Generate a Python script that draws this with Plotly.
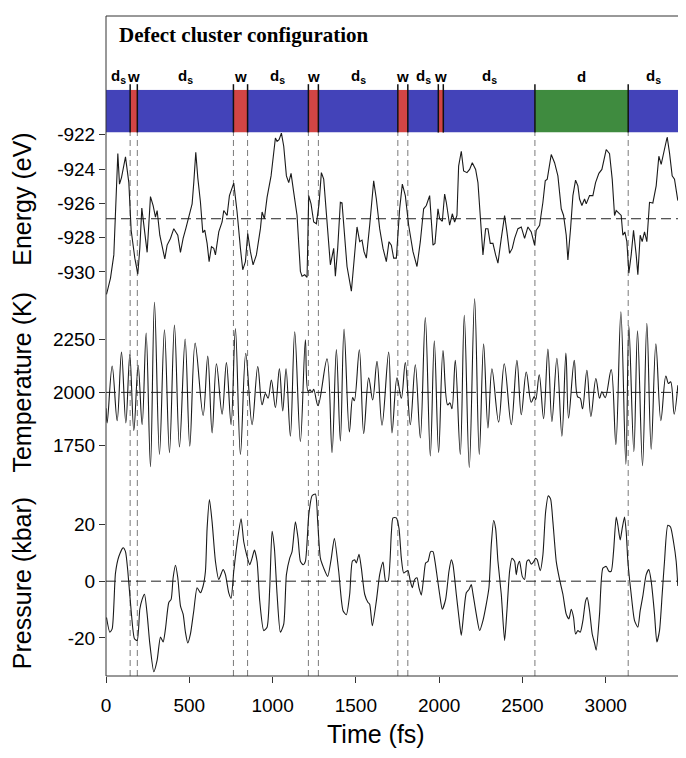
import plotly.graph_objects as go

# ---------------- data ----------------
seg_start = [0, 145, 188, 765, 850, 1215, 1275, 1752, 1812, 1995, 2025, 2575, 3135]
seg_end = [145, 188, 765, 850, 1215, 1275, 1752, 1812, 1995, 2025, 2575, 3135, 3440]
seg_type = ['ds', 'w', 'ds', 'w', 'ds', 'w', 'ds', 'w', 'ds', 'w', 'ds', 'd', 'ds']
dashed_times = [145, 188, 765, 850, 1215, 1275, 1752, 1812, 2575, 3135]

energy_t = [3, 27, 47, 71, 81, 93, 117, 137, 151, 173, 191, 203, 215, 227, 247, 267, 283, 297, 307, 323,
            353, 367, 387, 407, 431, 447, 463, 479, 497, 517, 527, 539, 551, 567, 581, 593, 607, 619, 633, 647,
            657, 677, 697, 707, 727, 741, 767, 787, 807, 821, 837, 851, 867, 883, 903, 927, 937, 951, 967, 991,
            1017, 1027, 1039, 1053, 1067, 1083, 1097, 1111, 1127, 1147, 1167, 1177, 1193, 1207, 1217, 1231, 1247,
            1263, 1279, 1293, 1307, 1323, 1347, 1367, 1377, 1391, 1407, 1417, 1431, 1447, 1473, 1493, 1507, 1523,
            1537, 1549, 1563, 1583, 1607, 1623, 1643, 1663, 1683, 1699, 1713, 1727, 1743, 1763, 1779, 1797, 1817,
            1843, 1867, 1887, 1907, 1923, 1943, 1963, 1975, 1993, 2003, 2019, 2033, 2043, 2063, 2079, 2093, 2107,
            2117, 2133, 2147, 2167, 2183, 2199, 2219, 2233, 2247, 2263, 2279, 2293, 2307, 2323, 2339, 2353, 2373,
            2393, 2407, 2423, 2439, 2453, 2473, 2493, 2513, 2533, 2553, 2573, 2583, 2603, 2623, 2637, 2649, 2673,
            2693, 2713, 2733, 2747, 2763, 2773, 2789, 2803, 2819, 2833, 2843, 2857, 2873, 2883, 2903, 2923, 2939,
            2959, 2977, 2989, 3003, 3023, 3039, 3053, 3063, 3073, 3093, 3103, 3115, 3127, 3139, 3153, 3167, 3183,
            3193, 3207, 3219, 3233, 3247, 3263, 3283, 3303, 3319, 3333, 3353, 3369, 3383, 3399, 3413, 3433]
energy_v = [-931.32, -930.36, -929.01, -923.10, -924.88, -924.50, -923.29, -924.79, -927.57, -929.20,
            -930.13, -928.63, -926.28, -927.28, -928.86, -925.61, -926.13, -926.80, -926.42, -927.86,
            -929.24, -928.44, -928.05, -927.48, -927.86, -928.86, -928.05, -927.48, -926.80, -926.03,
            -924.79, -923.02, -924.50, -925.94, -927.71, -927.57, -928.34, -929.40, -928.53, -928.63,
            -929.01, -927.67, -927.09, -926.42, -926.71, -925.55, -924.82, -926.51, -928.63, -929.88,
            -929.40, -927.76, -928.82, -929.59, -929.01, -927.48, -926.51, -926.90, -925.65, -924.40,
            -922.19, -922.38, -922.29, -921.90, -922.67, -924.40, -924.79, -924.25, -925.36, -926.71,
            -929.97, -930.26, -930.17, -930.32, -925.55, -926.03, -927.09, -927.19, -926.03, -924.21,
            -924.59, -926.71, -929.59, -928.63, -930.26, -928.63, -925.94, -925.98, -927.57, -929.69,
            -931.13, -929.01, -927.38, -928.24, -928.15, -928.82, -929.20, -927.28, -924.69, -925.75,
            -927.48, -928.63, -929.40, -928.24, -928.44, -929.20, -929.20, -926.32, -924.88, -925.55,
            -927.28, -928.82, -929.69, -928.24, -926.32, -926.13, -925.55, -928.44, -928.34, -926.32,
            -926.90, -927.05, -925.46, -925.94, -927.28, -926.61, -927.09, -926.71, -923.83, -922.96,
            -924.11, -924.21, -924.02, -923.63, -924.02, -924.79, -926.71, -929.01, -927.48, -927.48,
            -928.34, -928.34, -929.01, -929.49, -928.05, -926.71, -927.67, -928.92, -928.63, -928.05,
            -927.48, -927.38, -928.05, -927.38, -927.67, -928.44, -927.57, -927.28, -925.94, -924.69,
            -924.59, -923.15, -923.63, -924.40, -926.32, -926.71, -927.86, -929.30, -927.48, -925.55,
            -924.65, -924.98, -925.75, -926.13, -925.75, -926.03, -925.55, -925.55, -924.79, -924.25,
            -924.02, -923.44, -922.86, -923.10, -924.59, -926.71, -926.42, -926.51, -926.71, -927.86,
            -927.67, -928.24, -930.07, -929.01, -927.57, -929.01, -930.17, -927.86, -928.24, -927.67,
            -928.24, -925.94, -925.98, -924.98, -923.25, -923.73, -922.77, -922.13, -923.06, -924.40,
            -924.59, -925.84]
energy_mean = -926.9

temp_t = [0, 7, 37, 67, 93, 119, 143, 167, 193, 217, 241, 267, 291, 321, 351, 381, 411, 441, 475, 503,
          535, 583, 611, 637, 663, 697, 723, 751, 777, 807, 839, 877, 911, 937, 957, 973, 993, 1017, 1041,
          1061, 1081, 1107, 1133, 1167, 1197, 1213, 1225, 1237, 1247, 1273, 1327, 1357, 1383, 1407, 1429,
          1461, 1481, 1491, 1521, 1547, 1577, 1601, 1627, 1657, 1697, 1717, 1747, 1773, 1797, 1827, 1857,
          1887, 1917, 1947, 1971, 1997, 2023, 2051, 2065, 2077, 2097, 2127, 2151, 2181, 2213, 2241, 2267,
          2293, 2317, 2357, 2391, 2433, 2467, 2493, 2523, 2553, 2571, 2580, 2601, 2627, 2653, 2677, 2707,
          2737, 2761, 2777, 2811, 2831, 2847, 2861, 2887, 2911, 2941, 2963, 2977, 2997, 3033, 3061, 3091,
          3121, 3139, 3169, 3191, 3221, 3247, 3273, 3301, 3331, 3361, 3377, 3390, 3411, 3433]
temp_v = [1925, 1855, 2125, 1866, 2191, 1855, 2180, 1819, 2128, 1847, 2281, 1647, 2428, 1706, 2297, 1714,
          2319, 1741, 2253, 1745, 2234, 1891, 2172, 1808, 2136, 1897, 2141, 1847, 2303, 1706, 2185, 1847,
          2123, 1941, 1995, 1972, 2058, 1928, 2112, 1912, 2112, 1792, 2288, 1766, 2250, 2005, 2012, 2000,
          2015, 1937, 2159, 1714, 2203, 1769, 2300, 1812, 1975, 1960, 2202, 1805, 2069, 1964, 2147, 1844,
          2191, 1808, 2069, 1972, 2141, 1847, 2131, 1784, 2355, 1698, 2245, 1714, 2198, 1941, 1950, 1922,
          2152, 1706, 2366, 1644, 2444, 1706, 2230, 1831, 2112, 1859, 2136, 1847, 2152, 1894, 2097, 1953,
          1980, 1965, 2084, 1875, 2206, 1862, 2162, 1792, 2187, 1878, 2152, 1980, 1972, 1922, 2105, 1886,
          2066, 1972, 2003, 1975, 2108, 1753, 2383, 1659, 2316, 1719, 2292, 1652, 2328, 1730, 2230, 1866,
          2078, 2042, 2050, 1897, 2034]
temp_mean = 2000

pres_t = [3, 23, 37, 57, 77, 103, 117, 131, 151, 171, 187, 203, 217, 231, 247, 263, 287, 307, 327, 343,
          357, 377, 391, 403, 417, 431, 447, 463, 477, 491, 507, 527, 547, 567, 583, 597, 607, 621, 637, 657,
          677, 703, 717, 737, 751, 767, 791, 811, 827, 847, 863, 877, 891, 907, 923, 947, 967, 983, 997, 1011,
          1027, 1047, 1067, 1083, 1103, 1117, 1137, 1153, 1167, 1183, 1197, 1217, 1237, 1257, 1271, 1287, 1307,
          1331, 1351, 1371, 1397, 1423, 1443, 1463, 1479, 1493, 1503, 1519, 1533, 1553, 1573, 1583, 1599, 1623,
          1643, 1663, 1679, 1693, 1713, 1723, 1743, 1759, 1773, 1787, 1803, 1813, 1827, 1839, 1853, 1867, 1879,
          1893, 1907, 1919, 1933, 1949, 1963, 1975, 1989, 2003, 2019, 2039, 2059, 2073, 2083, 2103, 2119, 2133,
          2149, 2163, 2179, 2193, 2203, 2223, 2243, 2263, 2283, 2299, 2313, 2327, 2339, 2353, 2373, 2393, 2407,
          2423, 2437, 2453, 2463, 2473, 2483, 2499, 2513, 2527, 2539, 2553, 2569, 2579, 2589, 2607, 2623, 2639,
          2655, 2669, 2683, 2703, 2723, 2743, 2763, 2779, 2793, 2807, 2819, 2833, 2847, 2863, 2879, 2889, 2903,
          2919, 2933, 2943, 2963, 2983, 3003, 3019, 3033, 3047, 3063, 3073, 3087, 3099, 3113, 3123, 3133, 3153,
          3173, 3193, 3207, 3223, 3243, 3259, 3273, 3293, 3307, 3323, 3339, 3353, 3373, 3389, 3407, 3423, 3433]
pres_v = [-12.8, -18.0, -16.8, 2.9, 8.7, 11.8, 10.4, 3.5, -10.4, -20.3, -20.9, -9.9, -6.4, -4.6, -11.6,
          -22.0, -31.9, -27.8, -19.7, -21.4, -16.8, -7.5, -6.4, 1.2, 5.6, 1.2, -8.7, -11.6, -18.0, -21.8,
          -18.6, -10.4, -2.3, -4.1, -1.7, 3.5, 18.6, 28.8, 20.9, 7.0, 0.6, 4.1, 2.3, -4.1, -6.0, 3.5, 15.1,
          22.0, 13.9, 8.7, 5.8, 8.1, 11.0, 7.0, -7.0, -17.4, -16.2, -2.3, 17.6, 11.6, -4.6, -18.0, -15.1, 2.3,
          8.1, 10.4, 20.9, 15.1, 7.0, 5.8, 7.0, 23.2, 30.1, 30.7, 20.9, 8.1, 4.6, 1.7, 7.5, 15.1, 3.5, -10.4,
          -11.8, -4.6, 7.0, 7.5, 6.4, 9.5, 4.6, -4.6, -7.5, -8.1, -15.7, -7.0, 2.3, 6.7, 0.0, 0.0, 16.8, 22.3,
          22.3, 18.6, 8.1, 2.9, 3.5, 3.7, 0.0, -2.3, 0.6, 1.2, -2.3, -4.9, 1.2, 6.4, 7.0, 10.4, 10.4, 7.0, 1.2,
          -4.6, -9.9, -6.4, 3.5, 7.5, 5.8, -4.6, -12.8, -19.1, -10.4, -4.1, -2.9, -1.2, -4.4, -11.6, -17.4,
          -13.9, -8.1, -2.3, 12.8, 21.4, 18.6, 7.0, -4.6, -20.9, -10.4, 3.5, 8.1, 7.0, 2.3, 5.8, 7.0, 1.7, 0.6,
          7.0, 7.5, 6.0, 7.0, 8.1, 7.5, 3.7, 9.3, 24.3, 30.1, 29.0, 20.9, 7.0, 0.6, -4.6, -11.6, -13.3, -9.9,
          -12.8, -18.6, -17.4, -18.0, -13.9, -7.0, -5.8, -10.4, -18.6, -21.8, -24.3, -11.6, 4.6, 5.2, 3.5, 3.5,
          10.4, 22.6, 19.7, 14.5, 18.6, 22.6, 17.4, 7.0, -4.6, -13.9, -16.2, -10.4, -5.2, 2.3, 4.1, 0.0, -11.6,
          -21.4, -17.4, -4.6, 7.0, 19.7, 19.1, 13.9, 7.0, -1.7]
pres_mean = 0

x_ticks = [0, 500, 1000, 1500, 2000, 2500, 3000]
e_ticks = [-922, -924, -926, -928, -930]
e_ticktext = ['-922', '-924', '-926', '-928', '-930']
t_ticks = [1750, 2000, 2250]
t_ticktext = ['1750', '2000', '2250']
p_ticks = [-20, 0, 20]
p_ticktext = ['-20', '0', '20']

# ---------------- styling ----------------
seg_colors = {'ds': '#4343B9', 'w': '#D24545', 'd': '#3F8B3F'}
seg_labels = {'ds': '<b>d<sub>s</sub></b>', 'w': '<b>w</b>', 'd': '<b>d</b>'}
FONT = 'Liberation Sans, Arial, sans-serif'
XMAX = 3440

# paper fractions (plot area 668 px tall; page body has an 8 px margin)
P_DOM = [0.0, 0.3084]
T_DOM = [0.3084, 0.5734]
E_DOM = [0.5734, 0.8234]
BAR_DOM = [0.8234, 0.8882]

fig = go.Figure()

# configuration bar
fig.add_trace(go.Bar(
    y=[0] * len(seg_start),
    x=[e - s for s, e in zip(seg_start, seg_end)],
    base=seg_start,
    orientation='h',
    width=1,
    marker=dict(color=[seg_colors[t] for t in seg_type], line=dict(width=0)),
    xaxis='x', yaxis='y4', showlegend=False, hoverinfo='skip'))

line_style = dict(color='#1a1a1a', width=1.1)
fig.add_trace(go.Scatter(x=energy_t, y=energy_v, mode='lines', line=line_style,
                         xaxis='x', yaxis='y3', showlegend=False))
fig.add_trace(go.Scatter(x=temp_t, y=temp_v, mode='lines',
                         line=dict(color='#1a1a1a', width=1.1, shape='spline', smoothing=1.0),
                         xaxis='x', yaxis='y2', showlegend=False))
fig.add_trace(go.Scatter(x=pres_t, y=pres_v, mode='lines',
                         line=dict(color='#1a1a1a', width=1.1, shape='spline', smoothing=0.6),
                         xaxis='x', yaxis='y', showlegend=False))

shapes = []
# vertical dashed transition lines
for t in dashed_times:
    shapes.append(dict(type='line', xref='x', yref='paper', x0=t, x1=t, y0=0, y1=BAR_DOM[0],
                       line=dict(color='#7a7a7a', width=1, dash='6px,4px'), layer='below'))
# horizontal mean lines
for yref, val in [('y3', energy_mean), ('y2', temp_mean), ('y', pres_mean)]:
    shapes.append(dict(type='line', xref='x', yref=yref, x0=0, x1=XMAX, y0=val, y1=val,
                       line=dict(color='#222222', width=1, dash='10px,5px'), layer='below'))
# segment boundary ticks on the bar
for b in seg_start[1:]:
    shapes.append(dict(type='line', xref='x', yref='paper', x0=b, x1=b, y0=BAR_DOM[0], y1=0.8967,
                       line=dict(color='#111111', width=1.5)))
# frame
shapes.append(dict(type='rect', xref='paper', yref='paper', x0=0, x1=1, y0=0, y1=1,
                   line=dict(color='#333333', width=1), fillcolor='rgba(0,0,0,0)'))

annotations = []
annotations.append(dict(text='<b>Defect cluster configuration</b>', xref='paper', yref='paper',
                        x=0.019, y=0.9716, xanchor='left', yanchor='middle', showarrow=False,
                        font=dict(family='Liberation Serif, Times New Roman, serif', size=21, color='black')))
for s, e, t in zip(seg_start, seg_end, seg_type):
    annotations.append(dict(text=seg_labels[t], xref='x', yref='paper', x=(s + e) / 2, y=0.9085,
                            xanchor='center', yanchor='middle', showarrow=False,
                            font=dict(family=FONT, size=15, color='black')))
for txt, yc in [('Energy (eV)', 0.7231), ('Temperature (K)', 0.4461), ('Pressure (kbar)', 0.1407)]:
    annotations.append(dict(text=txt, xref='paper', yref='paper', x=-0.1466, y=yc, textangle=-90,
                            xanchor='center', yanchor='middle', showarrow=False,
                            font=dict(family=FONT, size=25, color='black')))
annotations.append(dict(text='Time (fs)', xref='paper', yref='paper', x=0.471, y=-0.0883,
                        xanchor='center', yanchor='middle', showarrow=False,
                        font=dict(family=FONT, size=25, color='black')))

yax_common = dict(anchor='x', showgrid=False, zeroline=False, ticks='outside', ticklen=6,
                  tickcolor='#333333', tickfont=dict(family=FONT, size=19, color='black'),
                  showline=False)

fig.update_layout(
    width=678, height=750,
    margin=dict(l=98, r=7, t=0, b=82),
    paper_bgcolor='white', plot_bgcolor='white',
    barmode='overlay',
    xaxis=dict(range=[0, XMAX], anchor='y', tickvals=x_ticks, ticks='outside', ticklen=6,
               tickcolor='#333333', showgrid=False, zeroline=False, showline=False,
               ticklabelstandoff=6,
               tickfont=dict(family=FONT, size=19, color='black')),
    yaxis=dict(domain=P_DOM, range=[-33.4, 38.3], tickvals=p_ticks, ticktext=p_ticktext, **yax_common),
    yaxis2=dict(domain=T_DOM, range=[1620, 2450], tickvals=t_ticks, ticktext=t_ticktext, **yax_common),
    yaxis3=dict(domain=E_DOM, range=[-931.5, -921.87], tickvals=e_ticks, ticktext=e_ticktext, **yax_common),
    yaxis4=dict(domain=BAR_DOM, range=[-0.5, 0.5], anchor='x', visible=False, fixedrange=True),
    shapes=shapes,
    annotations=annotations,
    showlegend=False,
)

fig.write_html('out.html')
